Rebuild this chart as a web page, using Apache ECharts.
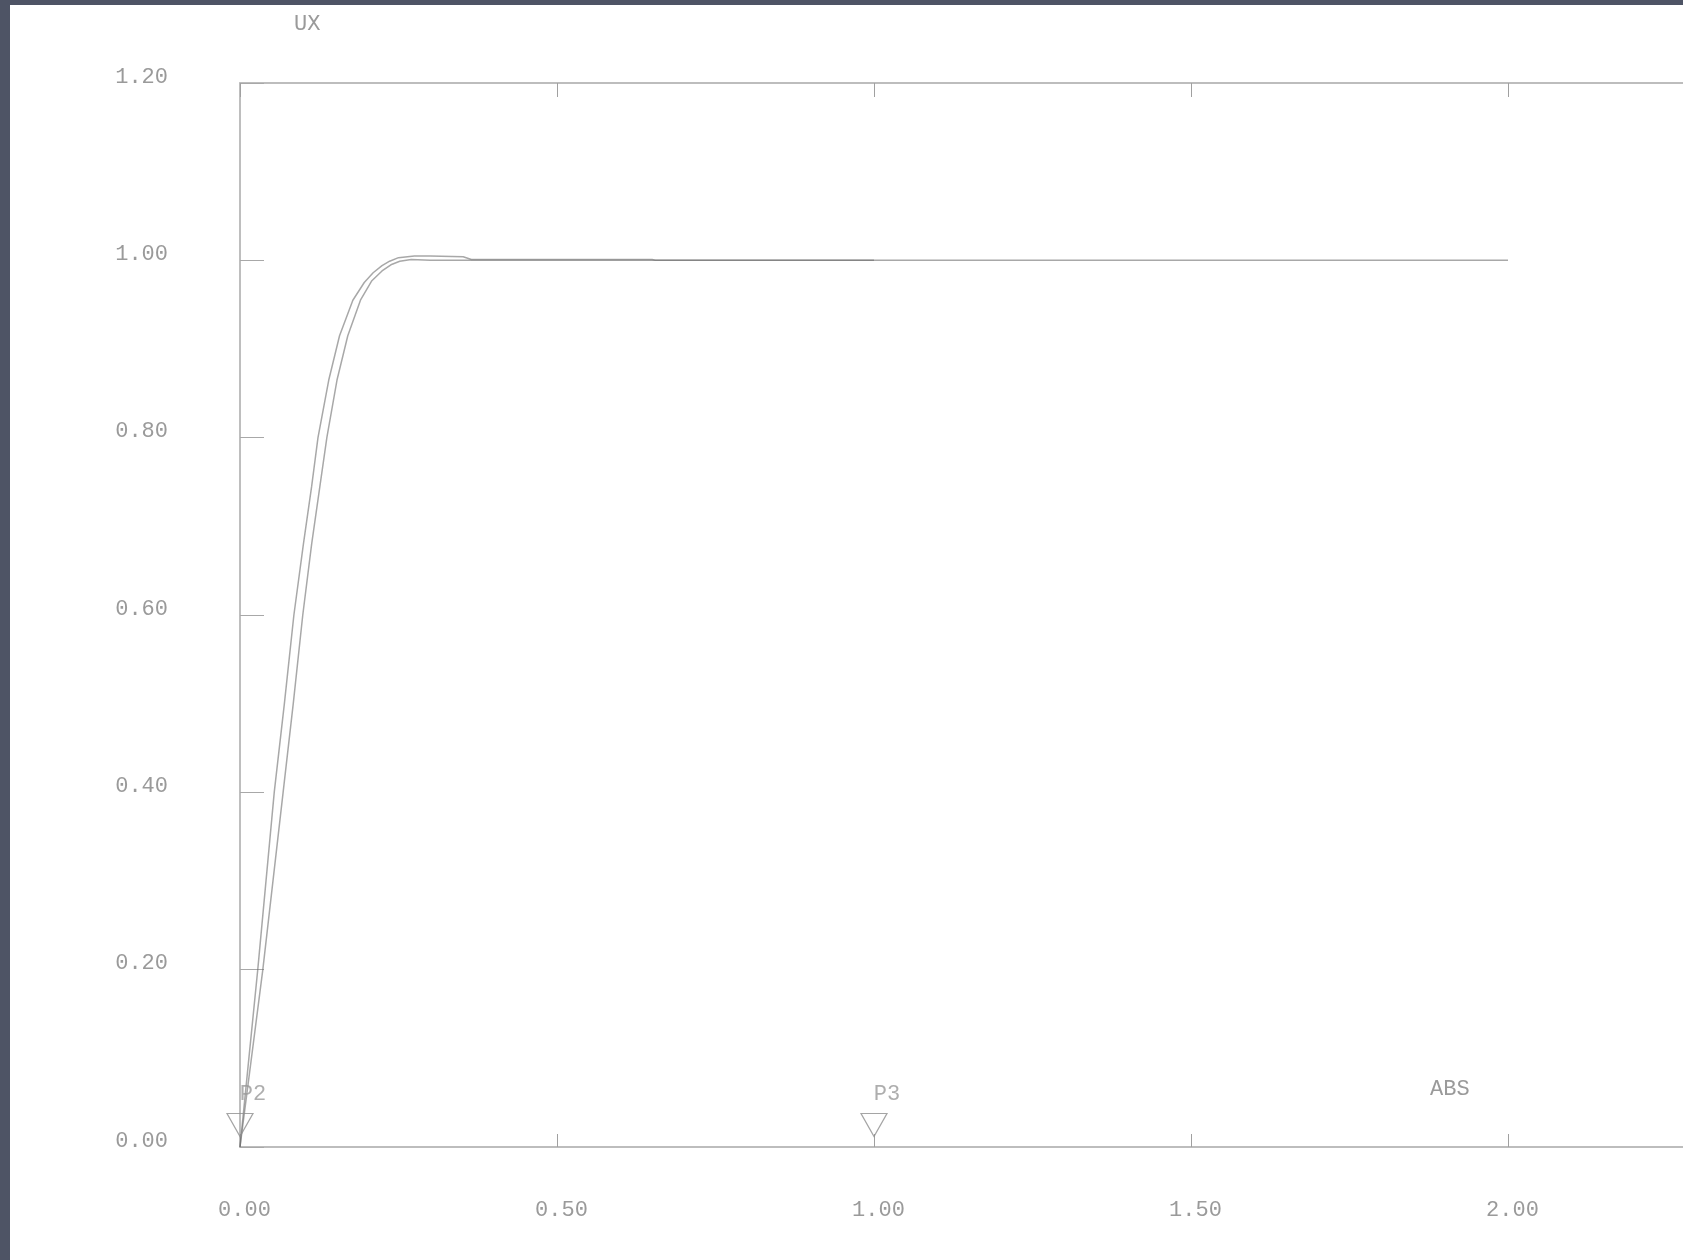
<!DOCTYPE html>
<html>
<head>
<meta charset="utf-8">
<title>UX - ABS</title>
<script src="https://cdn.jsdelivr.net/npm/echarts@6/dist/echarts.min.js"></script>
<style>
    html, body {
        margin: 0;
        padding: 0;
        width: 1683px;
        height: 1260px;
        overflow: hidden;
        background: #4e5465;
    }
    #test {
        position: absolute;
        left: 10px;
        top: 5px;
        width: 1673px;
        height: 1255px;
        background: #ffffff;
    }
</style>
</head>
<body>
<div id="test"></div>
<script>
// curve 1 : P2 -> P3 (abscissa 0 .. 1)
var absA = [0, 0.028, 0.054, 0.070, 0.085, 0.100, 0.113, 0.123, 0.140, 0.157, 0.178, 0.196, 0.210, 0.224, 0.236, 0.250, 0.275, 0.300, 0.352, 0.365, 0.650, 0.655, 1.0];
var uxA  = [0, 0.20, 0.40, 0.50, 0.60, 0.68, 0.745, 0.80, 0.865, 0.915, 0.955, 0.975, 0.986, 0.994, 0.999, 1.003, 1.005, 1.005, 1.004, 1.001, 1.001, 1.0, 1.0];

// curve 2 : abscissa 0 .. 2
var absB = [0, 0.036, 0.068, 0.084, 0.099, 0.113, 0.126, 0.137, 0.153, 0.170, 0.190, 0.208, 0.224, 0.238, 0.252, 0.270, 0.300, 2.0];
var uxB  = [0, 0.20, 0.40, 0.50, 0.60, 0.68, 0.745, 0.80, 0.865, 0.915, 0.955, 0.977, 0.988, 0.995, 0.999, 1.001, 1.0, 1.0];

// path points
var pointNames = ['P2', 'P3'];
var pointAbs = [0, 1.0];

var txtColor = '#9a9a9a';
var txtFont = '"Liberation Mono", "DejaVu Sans Mono", monospace';

function pairs(xs, ys) {
    var out = [];
    for (var i = 0; i < xs.length; i++) {
        out.push([xs[i], ys[i]]);
    }
    return out;
}

var markers = [];
for (var i = 0; i < pointNames.length; i++) {
    markers.push({name: pointNames[i], value: [pointAbs[i], 0]});
}

var myChart = echarts.init(document.getElementById('test'));

var option = {
    animation: false,
    title: [
        {
            text: 'UX',
            left: 284,
            top: 8,
            padding: 0,
            textStyle: {fontFamily: txtFont, fontSize: 22, fontWeight: 'normal', color: txtColor}
        },
        {
            text: 'ABS',
            left: 1420,
            top: 1073,
            padding: 0,
            textStyle: {fontFamily: txtFont, fontSize: 22, fontWeight: 'normal', color: txtColor}
        }
    ],
    grid: {
        left: 230,
        top: 78,
        bottom: 113,
        right: -142,
        containLabel: false,
        outerBoundsMode: 'none'
    },
    xAxis: [
        {
            type: 'value',
            position: 'bottom',
            min: 0,
            max: 2.5,
            interval: 0.5,
            axisLine: {lineStyle: {color: '#bdbdbd', width: 2}},
            axisTick: {inside: true, length: 13, lineStyle: {color: '#a0a0a0', width: 1}},
            splitLine: {show: false},
            axisLabel: {
                margin: 50,
                formatter: function (v) { return '{t|' + v.toFixed(2) + '}'; },
                rich: {
                    // labels sit a little right of the ticks
                    t: {fontFamily: txtFont, fontSize: 22, color: txtColor, padding: [2, 0, 0, 9]}
                }
            }
        },
        {
            type: 'value',
            position: 'top',
            min: 0,
            max: 2.5,
            interval: 0.5,
            axisLine: {lineStyle: {color: '#bdbdbd', width: 2}},
            axisTick: {inside: true, length: 14, lineStyle: {color: '#a0a0a0', width: 1}},
            splitLine: {show: false},
            axisLabel: {show: false}
        }
    ],
    yAxis: {
        type: 'value',
        min: 0,
        max: 1.2,
        interval: 0.2,
        axisLine: {show: true, lineStyle: {color: '#a8a8a8', width: 1.5}},
        axisTick: {show: true, inside: true, length: 24, lineStyle: {color: '#a8a8a8', width: 1}},
        splitLine: {show: false},
        axisLabel: {
            margin: 72,
            formatter: function (v) { return '{t|' + v.toFixed(2) + '}'; },
            rich: {
                // labels sit slightly above their ticks
                t: {fontFamily: txtFont, fontSize: 22, color: txtColor, padding: [0, 0, 12, 0]}
            }
        }
    },
    series: [
        {
            type: 'line',
            data: pairs(absA, uxA),
            showSymbol: false,
            smooth: false,
            lineStyle: {color: 'rgba(110,110,110,0.6)', width: 1.5}
        },
        {
            type: 'line',
            data: pairs(absB, uxB),
            showSymbol: false,
            smooth: false,
            lineStyle: {color: 'rgba(110,110,110,0.6)', width: 1.5}
        },
        // triangles on the axis
        {
            type: 'scatter',
            data: markers,
            clip: false,
            symbol: 'path://M0,0 L26,0 L13,23 Z',
            symbolSize: [26, 23],
            symbolOffset: [0, -22],
            itemStyle: {color: 'rgba(255,255,255,0)', borderColor: '#8f8f8f', borderWidth: 1.2},
            z: 5
        },
        // P2 / P3 names
        {
            type: 'scatter',
            data: markers,
            clip: false,
            symbolSize: 0,
            label: {
                show: true,
                position: 'inside',
                offset: [13, -53],
                formatter: '{b}',
                fontFamily: txtFont,
                fontSize: 22,
                color: txtColor
            },
            z: 6
        }
    ]
};

myChart.setOption(option);
</script>
</body>
</html>
